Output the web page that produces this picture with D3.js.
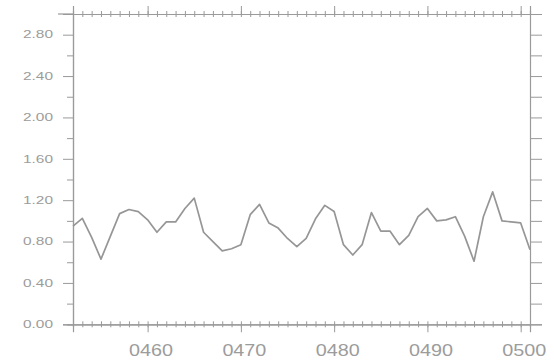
<!DOCTYPE html>
<html>
<head>
<meta charset="utf-8">
<script src="https://cdn.jsdelivr.net/npm/d3@7"></script>
<style>
  html, body { margin: 0; padding: 0; background: #fff; }
  svg { display: block; }
  text { font-family: "Liberation Sans", Arial, sans-serif; fill: #9c9c9c; }
</style>
</head>
<body>
<svg id="chart" width="554" height="360"></svg>
<script>
// Annual series, model years 0452-0501
const years = d3.range(452, 502);
const values = [
  0.95, 1.025, 0.84, 0.63, 0.85, 1.07, 1.11, 1.09, 1.01, 0.89,
  0.99, 0.99, 1.12, 1.22, 0.89, 0.80, 0.71, 0.73, 0.77, 1.06,
  1.16, 0.98, 0.93, 0.83, 0.75, 0.83, 1.02, 1.15, 1.09, 0.77,
  0.67, 0.77, 1.08, 0.90, 0.90, 0.77, 0.86, 1.04, 1.12, 1.00,
  1.01, 1.04, 0.85, 0.61, 1.04, 1.28, 1.00, 0.99, 0.98, 0.72
];
const yMajorTicks = [0, 0.4, 0.8, 1.2, 1.6, 2.0, 2.4, 2.8];
const yTickLabels = ["0.00", "0.40", "0.80", "1.20", "1.60", "2.00", "2.40", "2.80"];
const xMajorTicks = [460, 470, 480, 490, 500];
const xTickLabels = ["0460", "0470", "0480", "0490", "0500"];

const svg = d3.select("#chart");
const mLeft = 73, mRight = 530, mTop = 14, mBottom = 324.3;
const axisColor = "#9a9a9a";

const x = d3.scaleLinear().domain([452, 501]).range([mLeft, mRight]);
const y = d3.scaleLinear().domain([0, 3.0]).range([mBottom, mTop]);

const yMinor = d3.range(0, 3.0001, 0.2);

// left axis: labelled major ticks, short minor ticks
const gl = svg.append("g").attr("transform", `translate(${mLeft},0)`)
  .call(d3.axisLeft(y).tickValues(yMajorTicks).tickSize(10).tickPadding(10)
    .tickFormat((d, i) => yTickLabels[i]));
gl.selectAll("text").attr("font-size", 10)
  .attr("textLength", 30).attr("lengthAdjust", "spacingAndGlyphs");
svg.append("g").attr("transform", `translate(${mLeft},0)`)
  .call(d3.axisLeft(y).tickValues(yMinor.filter(v => !yMajorTicks.some(t => Math.abs(t - v) < 1e-6)))
    .tickSize(6).tickFormat(""));

// right axis: unlabelled ticks every 0.2
svg.append("g").attr("transform", `translate(${mRight},0)`)
  .call(d3.axisRight(y).tickValues(yMinor).tickSize(12).tickFormat(""));

// bottom axis: yearly minor ticks crossing the line, labelled decades
const yearTicks = d3.range(452, 502);
svg.append("g").attr("transform", `translate(0,${mBottom})`)
  .call(d3.axisBottom(x).tickValues(yearTicks).tickSize(3).tickFormat(""))
  .selectAll(".tick line").attr("y1", -3);
const gb = svg.append("g").attr("transform", `translate(0,${mBottom})`)
  .call(d3.axisBottom(x).tickValues(xMajorTicks).tickSize(8).tickPadding(12)
    .tickFormat((d, i) => xTickLabels[i]));
gb.selectAll("text").attr("font-size", 17).attr("dx", 3)
  .attr("textLength", 44).attr("lengthAdjust", "spacingAndGlyphs");

// top axis mirrors the bottom one without labels
svg.append("g").attr("transform", `translate(0,${mTop})`)
  .call(d3.axisTop(x).tickValues(yearTicks).tickSize(3).tickFormat(""))
  .selectAll(".tick line").attr("y1", 3);
svg.append("g").attr("transform", `translate(0,${mTop})`)
  .call(d3.axisTop(x).tickValues(xMajorTicks).tickSize(8).tickFormat(""));

svg.selectAll(".domain").attr("stroke", axisColor).attr("stroke-width", 1.2);
svg.selectAll(".tick line").attr("stroke", axisColor).attr("stroke-width", 1);

// extend the top edge slightly past the left corner
svg.append("line").attr("x1", 58).attr("x2", mLeft).attr("y1", mTop).attr("y2", mTop)
  .attr("stroke", axisColor).attr("stroke-width", 1.2);

// series line
svg.append("path")
  .datum(years.map((yr, i) => [yr, values[i]]))
  .attr("fill", "none")
  .attr("stroke", "#969696")
  .attr("stroke-width", 1.7)
  .attr("stroke-linejoin", "round")
  .attr("d", d3.line().x(d => x(d[0])).y(d => y(d[1])));
</script>
</body>
</html>
